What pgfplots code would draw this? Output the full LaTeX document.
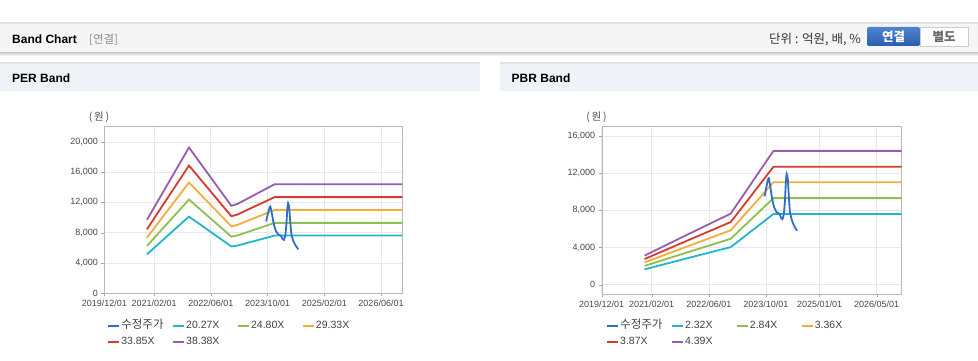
\documentclass[border=0pt]{standalone}
\usepackage{pgfplots}
\usepackage{pgfplotstable}
\pgfplotsset{compat=1.18}
\usepackage{fontspec}
\setmainfont{Liberation Sans}
\newfontfamily\kr{Noto Sans CJK KR}
\definecolor{cPrice}{HTML}{2F6FC9}
\definecolor{cC}{HTML}{22B5CC}
\definecolor{cG}{HTML}{8DC050}
\definecolor{cO}{HTML}{F2AE3A}
\definecolor{cR}{HTML}{D63B2F}
\definecolor{cP}{HTML}{9B5BAE}
\definecolor{hdr}{HTML}{EFF2F7}
\definecolor{hdrline}{HTML}{DFE3EA}

% months since 2019/12/01, adjusted price
\pgfplotstableread{
m v
45.6 9500
46.0 10300
46.5 11200
46.8 11450
47.2 10600
47.7 9300
48.3 8300
49.0 7800
49.8 7600
50.2 7200
50.6 7050
51.0 7600
51.3 9000
51.6 11300
51.8 11900
52.1 11400
52.4 9500
52.7 7900
53.2 7000
53.8 6400
54.7 5800
}\pricetab

\pgfplotsset{
  bandax/.style={
    scale only axis, anchor=south west,
    xmin=0, xmax=84,
    axis line style={draw=black!28},
    tick style={draw=black!35},
    tick pos=left,
    tick align=outside, major tick length=3pt,
    grid=major, major grid style={draw=black!9, line width=0.6pt},
    tick label style={font=\fontsize{9}{10}\selectfont, text=black!72},
    /pgf/number format/assume math mode=true,
    yticklabel style={/pgf/number format/fixed, /pgf/number format/1000 sep={,}},
    scaled y ticks=false,
    legend columns=4,
    legend cell align=left,
    legend style={draw=none, fill=none, anchor=north west, inner sep=0pt, outer sep=0pt,
      nodes={inner sep=1pt, text height=8pt, text depth=2.5pt,
        font=\fontsize{10.5}{12}\selectfont, text=black!75},
      row sep=3.5pt, column sep=0pt},
    legend image code/.code={\draw[##1, line width=2.2pt] (0pt,0pt) -- (11pt,0pt);},
  },
  band/.style={line width=1.8pt, no markers},
}
\newcommand{\lb}[1]{\makebox[49.7pt][l]{#1}}

\begin{document}
\begin{tikzpicture}
\useasboundingbox (0,0) rectangle (978pt,361pt);
\fill[white] (0,0) rectangle (978pt,361pt);
% top bar
\shade[top color=black!22, bottom color=white] (0,305pt) rectangle (978pt,309pt);
\fill[black!4] (0,309pt) rectangle (978pt,339pt);
\fill[black!12] (0,337pt) rectangle (978pt,339pt);
\node[anchor=base west, inner sep=0pt, font=\bfseries\fontsize{12}{14}\selectfont] at (12pt,317.7pt) {Band Chart};
\node[anchor=base west, inner sep=0pt, text=black!45, font=\kr\fontsize{11.5}{13}\selectfont] at (89pt,317.7pt) {[연결]};
\node[anchor=base east, inner sep=0pt, text=black!80, font=\kr\fontsize{12.5}{14}\selectfont] at (861pt,317.7pt) {단위 : 억원, 배, \%};
\shade[top color=cPrice!85!white, bottom color=cPrice!85!black, rounded corners=2pt] (867pt,315pt) rectangle (920pt,334pt);
\node[text=white, font=\kr\bfseries\fontsize{12.5}{14}\selectfont] at (893.5pt,324.5pt) {연결};
\draw[black!20, fill=white] (920pt,315pt) rectangle (968pt,334pt);
\node[text=black!60, font=\kr\bfseries\fontsize{12.5}{14}\selectfont] at (944pt,324.5pt) {별도};
% panel headers
\fill[hdr] (0,270pt) rectangle (480pt,299pt);
\fill[hdrline] (0,297pt) rectangle (480pt,299pt);
\fill[hdr] (500pt,270pt) rectangle (978pt,299pt);
\fill[hdrline] (500pt,297pt) rectangle (978pt,299pt);
\node[anchor=base west, inner sep=0pt, font=\bfseries\fontsize{12}{14}\selectfont] at (12pt,278.7pt) {PER Band};
\node[anchor=base west, inner sep=0pt, font=\bfseries\fontsize{12}{14}\selectfont] at (511.5pt,278.7pt) {PBR Band};
\node[text=black!70, font=\kr\fontsize{10.5}{12}\selectfont] at (99pt,244pt) {(\,원\,)};
\node[text=black!70, font=\kr\fontsize{10.5}{12}\selectfont] at (596.5pt,244pt) {(\,원\,)};

% PER axis
\begin{axis}[bandax,
  at={(104.4pt,67.7pt)}, width=297.9pt, height=166.6pt,
  ymin=0, ymax=22000, ytick={0,4000,8000,12000,16000,20000},
  xtick={0,14,30,46,62,78},
  xticklabels={2019/12/01,2021/02/01,2022/06/01,2023/10/01,2025/02/01,2026/06/01},
  legend style={at={(axis description cs:0.009,-0.160)}},
]
\addlegendimage{cPrice, line width=2.2pt}
\addlegendentry{\lb{\kr\fontsize{11.5}{12}\selectfont 수정주가}}
\addplot[band, cC] coordinates {(12,5150) (23.85,10130) (35.8,6180) (37.5,6300) (48,7620) (84,7620)};
\addlegendentry{\lb{20.27X}}
\addplot[band, cG] coordinates {(12,6250) (23.85,12380) (35.8,7480) (37.5,7640) (48,9300) (84,9300)};
\addlegendentry{\lb{24.80X}}
\addplot[band, cO] coordinates {(12,7350) (23.85,14630) (35.8,8850) (37.5,9030) (48,11000) (84,11000)};
\addlegendentry{\lb{29.33X}}
\addplot[band, cR] coordinates {(12,8450) (23.85,16870) (35.8,10180) (37.5,10400) (48,12700) (84,12700)};
\addlegendentry{\lb{33.85X}}
\addplot[band, cP] coordinates {(12,9700) (23.85,19250) (35.8,11550) (37.5,11800) (48,14400) (84,14400)};
\addlegendentry{\lb{38.38X}}
\addplot[cPrice, line width=1.8pt, no markers, smooth, tension=0.3, forget plot] table[x=m, y=v] {\pricetab};
\end{axis}

% PBR axis
\begin{axis}[bandax,
  at={(601.7pt,67pt)}, width=300pt, height=167.3pt,
  ymin=-1000, ymax=17000, ytick={0,4000,8000,12000,16000},
  xtick={0,14,30,46,61,77},
  xticklabels={2019/12/01,2021/02/01,2022/06/01,2023/10/01,2025/01/01,2026/05/01},
  legend style={at={(axis description cs:0.0143,-0.155)}},
]
\addlegendimage{cPrice, line width=2.2pt}
\addlegendentry{\lb{\kr\fontsize{11.5}{12}\selectfont 수정주가}}
\addplot[band, cC] coordinates {(12,1650) (24,2850) (36.1,4040) (38,4600) (48.1,7610) (84,7610)};
\addlegendentry{\lb{2.32X}}
\addplot[band, cG] coordinates {(12,2020) (24,3480) (36.1,4940) (38,5620) (48.1,9315) (84,9315)};
\addlegendentry{\lb{2.84X}}
\addplot[band, cO] coordinates {(12,2400) (24,4120) (36.1,5850) (38,6660) (48.1,11020) (84,11020)};
\addlegendentry{\lb{3.36X}}
\addplot[band, cR] coordinates {(12,2760) (24,4750) (36.1,6735) (38,7660) (48.1,12690) (84,12690)};
\addlegendentry{\lb{3.87X}}
\addplot[band, cP] coordinates {(12,3130) (24,5390) (36.1,7640) (38,8700) (48.1,14400) (84,14400)};
\addlegendentry{\lb{4.39X}}
\addplot[cPrice, line width=1.8pt, no markers, smooth, tension=0.3, forget plot] table[x=m, y=v] {\pricetab};
\end{axis}
\end{tikzpicture}
\end{document}
